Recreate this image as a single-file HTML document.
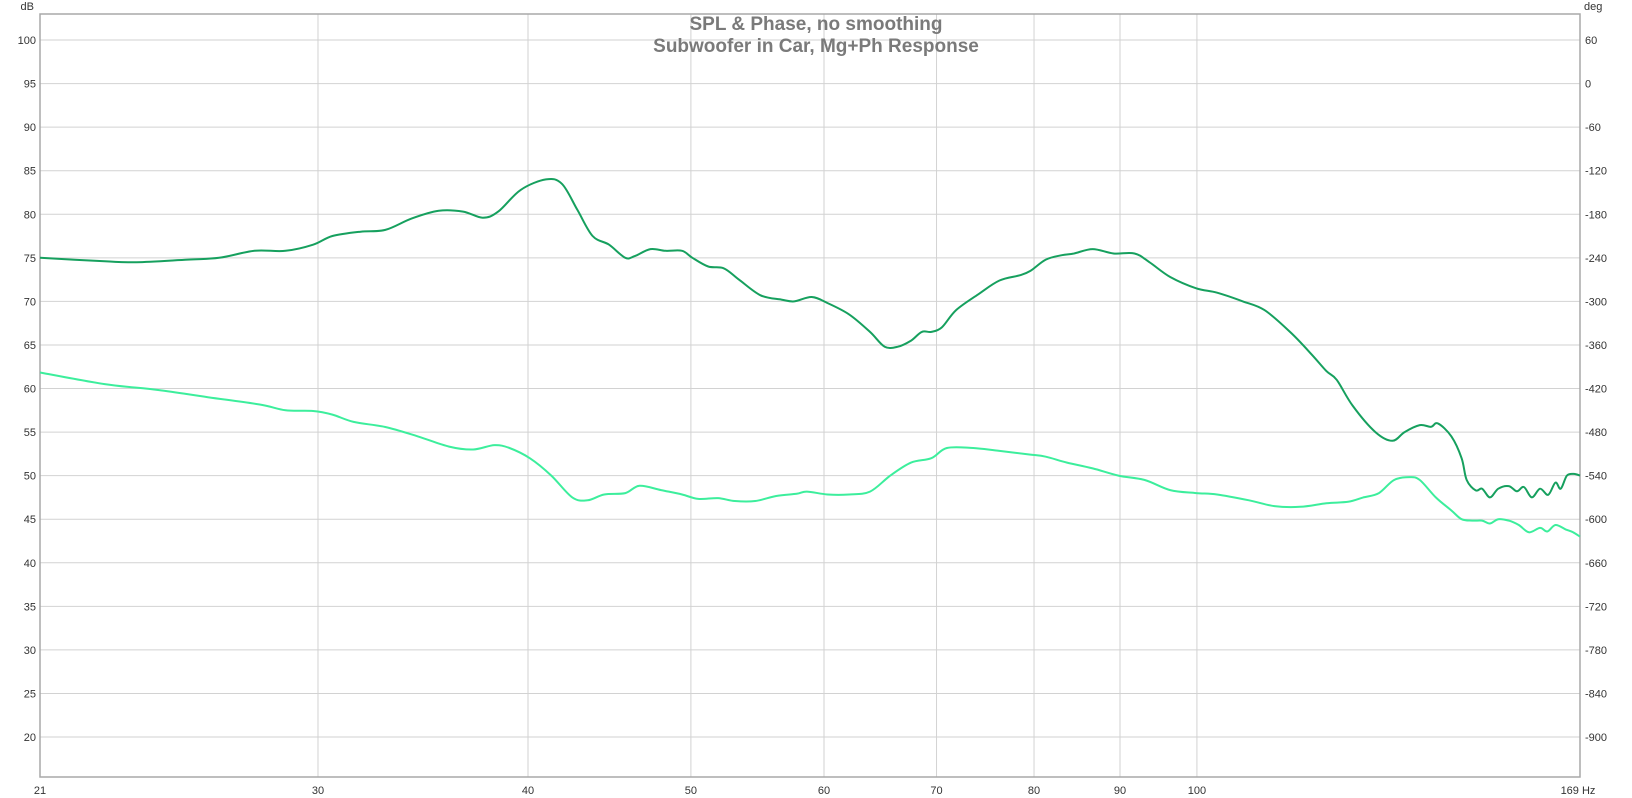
<!DOCTYPE html>
<html><head><meta charset="utf-8">
<style>
html,body{margin:0;padding:0;background:#fff;}
svg{display:block;font-family:"Liberation Sans",Arial,sans-serif;}
</style></head>
<body>
<svg id="chart" width="1632" height="798" viewBox="0 0 1632 798" xmlns="http://www.w3.org/2000/svg">
<g id="grid"></g>
<g id="axes"></g>
<g id="series"></g>
<text x="816" y="30" text-anchor="middle" font-size="19" font-weight="bold" fill="#7a7a7a">SPL &amp; Phase, no smoothing</text>
<text x="816" y="52" text-anchor="middle" font-size="19" font-weight="bold" fill="#7a7a7a">Subwoofer in Car, Mg+Ph Response</text>
</svg>
<script>
const xTicks = [30,40,50,60,70,80,90,100];
const yTicks = [20,25,30,35,40,45,50,55,60,65,70,75,80,85,90,95,100];
const phaseTicks = [-900,-840,-780,-720,-660,-600,-540,-480,-420,-360,-300,-240,-180,-120,-60,0,60];

const splFreq = [20.5,22.4,23.4,25.1,26.2,27.5,28.7,29.8,30.6,31.8,32.9,34.1,35.4,36.6,37.6,38.4,39.6,41.0,41.9,42.8,43.7,44.7,45.7,46.3,47.3,48.3,49.4,50.1,51.2,52.3,53.4,55.0,56.6,57.6,59.0,60.3,62.1,63.9,65.2,66.4,67.6,68.6,69.5,70.5,71.9,74.1,76.3,78.5,79.6,81.3,83.1,84.5,86.7,89.2,91.8,93.7,96.4,99.9,102.8,106.5,109.7,113.6,116.9,119.4,121.1,123.8,127.7,130.7,132.9,135.7,137.8,139.1,141.7,143.7,144.7,146.5,147.8,149.4,151.1,153.3,155.0,156.5,158.2,160.0,161.8,163.4,164.6,166.0,167.6,169];
const splDb = [75,74.6,74.5,74.8,75,75.8,75.8,76.5,77.5,78,78.2,79.5,80.4,80.3,79.6,80.3,82.8,84,83.5,80.5,77.5,76.5,75,75.2,76,75.8,75.8,75,74,73.8,72.5,70.7,70.2,70,70.5,69.8,68.5,66.5,64.8,64.8,65.5,66.5,66.5,67,69,70.8,72.4,73,73.5,74.8,75.3,75.5,76,75.5,75.5,74.5,72.8,71.5,71,70,69,66.5,64,62,61,58,55,54,55,55.8,55.6,56,54.5,52,49.5,48.3,48.5,47.5,48.5,48.8,48.2,48.7,47.5,48.5,47.8,49.2,48.5,50,50.2,50];

const phaseFreq = [20.5,22.4,24.1,25.8,27.7,28.7,29.8,30.6,31.5,32.9,34.4,35.9,37.1,38.2,39.0,40.1,41.3,42.5,43.4,44.4,45.7,46.6,48.0,49.4,50.5,51.9,53.1,54.6,56.2,57.8,58.6,60.3,62.1,63.9,65.7,67.6,69.5,71.0,73.6,76.3,79.6,81.3,83.7,86.7,89.8,93.1,96.4,99.9,102.8,107.4,111.2,115.2,119.4,123.0,125.6,128.3,131.0,133.8,135.7,138.7,141.7,143.7,145.8,147.8,149.4,151.1,153.3,155.4,157.6,160.0,161.6,163.4,165.7,167.4,169];
const phaseDeg = [-398,-414,-422,-432,-442,-450,-451,-456,-466,-473,-486,-500,-504,-498,-502,-516,-540,-570,-574,-566,-564,-554,-560,-566,-572,-571,-575,-575,-568,-565,-562,-566,-566,-562,-540,-522,-516,-502,-502,-506,-511,-514,-522,-530,-540,-546,-560,-564,-566,-574,-582,-583,-578,-576,-570,-564,-546,-542,-546,-570,-588,-600,-602,-602,-606,-600,-602,-608,-618,-612,-617,-608,-614,-618,-624];

const L=40,R=1580,T=14,B=777,FMIN=20.5,FMAX=169;
const xs = f => L + (R-L)*Math.log(f/FMIN)/Math.log(FMAX/FMIN);
const ys = v => 40 + (100-v)*(697/80);
const yp = d => ys(95 + d/12);
const NS="http://www.w3.org/2000/svg";
function mk(tag, parent, attrs){const e=document.createElementNS(NS,tag);for(const k in attrs)e.setAttribute(k,attrs[k]);parent.appendChild(e);return e;}
const grid=document.getElementById('grid'), axes=document.getElementById('axes'), series=document.getElementById('series');

yTicks.forEach((v,i)=>{
  const y=ys(v);
  const ln=mk('line',grid,{x1:L,x2:R,y1:y,y2:y,stroke:'#d2d2d2','stroke-width':1});
  
  
  const t=mk('text',axes,{x:L-4,y:y+4,'text-anchor':'end','font-size':11,fill:'#333'});
  t.textContent=v;
  
  
  const t2=mk('text',axes,{x:R+5,y:y+4,'text-anchor':'start','font-size':11,fill:'#333'});
  t2.textContent=phaseTicks[i];
  
  
});
xTicks.forEach(f=>{
  const x=xs(f);
  const ln=mk('line',grid,{x1:x,x2:x,y1:T,y2:B,stroke:'#d2d2d2','stroke-width':1});
  
  
  const t=mk('text',axes,{x:x,y:B+17,'text-anchor':'middle','font-size':11,fill:'#333'});
  t.textContent=f;
  
  
});
const t21=mk('text',axes,{x:L,y:B+17,'text-anchor':'middle','font-size':11,fill:'#333'});
t21.textContent='21';


const t169=mk('text',axes,{x:xs(169)-2,y:B+17,'text-anchor':'middle','font-size':11,fill:'#333'});
t169.textContent='169 Hz';


const tdb=mk('text',axes,{x:L-6,y:10,'text-anchor':'end','font-size':11,fill:'#333'});
tdb.textContent='dB';


const tdeg=mk('text',axes,{x:R+4,y:10,'text-anchor':'start','font-size':11,fill:'#333'});
tdeg.textContent='deg';


const frame=mk('rect',axes,{x:L,y:T,width:R-L,height:B-T,fill:'none',stroke:'#a8a8a8','stroke-width':1.5});



function smoothPath(pts){
  let d='M'+pts[0][0].toFixed(1)+','+pts[0][1].toFixed(1);
  for(let i=0;i<pts.length-1;i++){
    const p0=pts[Math.max(0,i-1)],p1=pts[i],p2=pts[i+1],p3=pts[Math.min(pts.length-1,i+2)];
    const c1x=p1[0]+(p2[0]-p0[0])/6,c1y=p1[1]+(p2[1]-p0[1])/6;
    const c2x=p2[0]-(p3[0]-p1[0])/6,c2y=p2[1]-(p3[1]-p1[1])/6;
    d+=' C'+c1x.toFixed(1)+','+c1y.toFixed(1)+' '+c2x.toFixed(1)+','+c2y.toFixed(1)+' '+p2[0].toFixed(1)+','+p2[1].toFixed(1);
  }
  return d;
}
const phPts=phaseFreq.map((f,i)=>[xs(f),yp(phaseDeg[i])]);
const ph=mk('path',series,{d:smoothPath(phPts),fill:'none',stroke:'#3cee9c','stroke-width':2});


const splPts=splFreq.map((f,i)=>[xs(f),ys(splDb[i])]);
const spl=mk('path',series,{d:smoothPath(splPts),fill:'none',stroke:'#16a05e','stroke-width':2});


</script>
</body></html>
